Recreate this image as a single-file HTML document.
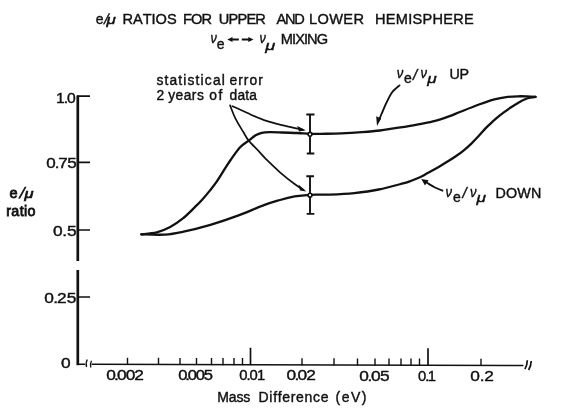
<!DOCTYPE html>
<html>
<head>
<meta charset="utf-8">
<title>e/μ ratios for upper and lower hemisphere</title>
<style>
html,body{margin:0;padding:0;background:#fff;}
body{width:581px;height:411px;overflow:hidden;position:relative;}
svg{position:absolute;left:0;top:0;display:block;will-change:transform;}
text{font-family:"Liberation Sans","DejaVu Sans",sans-serif;fill:#111;stroke:#111;stroke-width:0.4px;}
.i{font-style:italic;}
</style>
</head>
<body>
<svg width="581" height="411" viewBox="0 0 581 411">
<rect width="581" height="411" fill="#fff"/>

<!-- titles -->
<g id="titles">
<text x="95.800" y="23.700" font-size="14">e</text>
<text transform="translate(103.300,23.500) skewX(-14)" font-size="14.500">/</text>
<text x="106.400" y="23.600" font-size="12" class="i" textLength="9.300" lengthAdjust="spacingAndGlyphs">μ</text>
<text x="122.50 133.01 142.71 151.59 155.61 166.93 176.67 183.10 191.05 201.43 211.98 218.87 228.59 237.51 246.42 255.33 265.88 276.57 285.06 294.35 304.90 308.90 317.41 329.15 343.31 353.43 363.98 375.00 385.80 395.79 408.21 412.52 422.51 432.50 443.30 453.29 464.09" y="23.7" font-size="14.6">RATIOS FOR UPPER AND LOWER HEMISPHERE</text>
<text x="210.500" y="43.300" font-size="14.500" class="i" textLength="6.300" lengthAdjust="spacingAndGlyphs">ν</text>
<text x="216.800" y="48.500" font-size="14">e</text>
<text x="259.500" y="43.300" font-size="14.500" class="i" textLength="6.300" lengthAdjust="spacingAndGlyphs">ν</text>
<text x="265.300" y="49.500" font-size="13.500" class="i" textLength="10" lengthAdjust="spacingAndGlyphs">μ</text>
<text x="280.80 292.04 295.17 303.98 307.12 316.73" y="43.8" font-size="14.6">MIXING</text>
<path d="M230 39.500H238.800M241.800 39.500H251" stroke="#111" stroke-width="2" fill="none"/>
<path d="M227.300 39.500l5.200-2.600v5.200zM253.500 39.500l-5.200-2.600v5.200z" fill="#111"/>
</g>

<!-- axes -->
<g id="axes" stroke="#111" fill="none" stroke-linecap="butt">
<path d="M77.800 95.500V261M77.800 270V365.200" stroke-width="2.700"/>
<path d="M77 96.200H90M77 162.300H90M77 230H90M77 297H90" stroke-width="1.700"/>
<path d="M77 364.300L85 364.320M91.500 364.340L523.500 365.600" stroke-width="1.500"/>
<path d="M87.300 359.500C86 362 85.600 364.500 86.600 367M91.500 360.700C90.300 363 90 365.500 90.800 367.500" stroke-width="1.300"/>
<path d="M527.300 360.300C527.300 363.500 526.400 366.500 524.900 369.200M531.200 361C531.200 364.200 530.200 367.300 528.600 370" stroke-width="1.700"/>
<!-- minor ticks -->
<path d="M127.5 364.9v-7.2M158.5 365.0v-7.2M180.0 365.1v-7.2M196.5 365.1v-7.2M211.5 365.2v-7.2M223.0 365.2v-7.2M234.0 365.3v-7.2M242.5 365.3v-7.2M302.0 365.5v-7.2M334.0 365.5v-7.2M357.5 365.6v-7.2M375.0 365.7v-7.2M389.0 365.7v-7.2M401.0 365.7v-7.2M411.0 365.8v-7.2M419.5 365.8v-7.2M481.0 366.0v-7.2" stroke-width="1.400"/>
<!-- major ticks -->
<path d="M250.5 365.3v-17.5M428.0 365.8v-17.5" stroke-width="1.700"/>
</g>

<!-- axis labels -->
<g id="ylabels" font-size="14.800">
<text transform="scale(1.06,1)" x="52.83 60.05 63.29" y="102.7">1.0</text>
<text transform="scale(1.15,1)" x="40.29 47.59 50.59 58.48" y="168.4">0.75</text>
<text transform="scale(1.17,1)" x="45.32 53.31 57.18" y="236">0.5</text>
<text transform="scale(1.17,1)" x="37.88 45.49 48.81 57.01" y="303">0.25</text>
<text transform="scale(1.17,1)" x="52.24" y="368.3">0</text>
</g>
<g id="sidelabel">
<text x="9.500" y="197.700" font-size="14.500" style="stroke-width:0.8px">e</text>
<text transform="translate(18.800,197.700) skewX(-16)" font-size="15" style="stroke-width:0.7px">/</text>
<text x="24.600" y="197.600" font-size="12" class="i" textLength="9" lengthAdjust="spacingAndGlyphs" style="stroke-width:0.6px">μ</text>
<text x="6.25 11.35 19.63 23.94 27.45" y="216.3" font-size="14.3" style="stroke-width:0.8px">ratio</text>
</g>
<g id="xlabels" font-size="14.800">
<text transform="scale(1.17,1)" x="90.79 97.46 100.01 107.46 114.74" y="379.9">0.002</text>
<text transform="scale(1.12,1)" x="159.06 165.45 167.72 174.89 182.03" y="380">0.005</text>
<text x="239.22 246.48 249.61 257.09" y="380.2">0.01</text>
<text transform="scale(1.17,1)" x="244.89 251.68 254.35 261.74" y="380.4">0.02</text>
<text transform="scale(1.17,1)" x="307.11 314.15 317.07 324.87" y="380.7">0.05</text>
<text x="418.02 425.19 427.69" y="381">0.1</text>
<text transform="scale(1.17,1)" x="401.99 410.03 413.80" y="381.3">0.2</text>
<text x="217.35 228.85 236.47 243.31 250.31 258.55 269.35 273.14 277.72 282.29 290.76 296.11 304.58 313.05 320.74 328.52 335.53 341.69 350.97 361.81" y="402.3" font-size="14">Mass Difference (eV)</text>
</g>

<!-- curves -->
<g id="curves" stroke="#111" fill="none" stroke-linecap="round" stroke-linejoin="round">
<path id="up" stroke-width="2.300" d="M141.3 234.3C143.9 234.0 152.0 233.6 156.8 232.4C161.6 231.2 165.8 229.3 170.2 227.0C174.5 224.7 178.8 221.7 182.9 218.4C187.0 215.1 191.4 210.5 194.6 207.4C197.8 204.3 199.5 202.8 201.9 200.1C204.3 197.4 206.8 194.4 209.2 191.4C211.6 188.4 214.1 185.4 216.5 181.9C218.9 178.4 221.5 174.1 223.8 170.4C226.2 166.8 227.9 163.9 230.6 160.0C233.3 156.1 237.1 150.4 240.1 147.2C243.1 144.0 246.1 142.6 248.7 140.6C251.3 138.6 253.4 136.6 255.6 135.3C257.8 134.0 259.5 133.3 261.8 132.8C264.1 132.3 266.2 132.2 269.6 132.1C273.0 132.0 277.4 132.3 282.0 132.5C286.6 132.7 292.7 132.8 297.4 133.0C302.1 133.2 306.1 133.7 310.0 133.8C313.9 133.9 315.5 133.9 320.7 133.8C325.9 133.7 334.4 133.7 341.3 133.4C348.2 133.1 355.6 132.6 362.0 132.1C368.4 131.6 374.7 131.1 380.0 130.5C385.3 129.9 389.2 129.0 393.8 128.3C398.4 127.6 402.9 127.1 407.5 126.4C412.1 125.7 416.7 124.8 421.3 123.9C425.9 123.0 430.5 122.2 435.1 120.9C439.7 119.7 444.8 117.9 448.9 116.4C453.0 114.9 454.9 114.0 459.9 112.0C464.9 110.0 473.2 106.6 479.0 104.5C484.8 102.4 490.0 100.6 494.5 99.4C499.0 98.2 502.3 97.6 506.2 97.1C510.1 96.6 514.4 96.4 517.9 96.3C521.4 96.2 524.1 96.3 527.0 96.4C529.9 96.5 534.1 96.8 535.5 96.9"/>
<path id="down" stroke-width="2.300" d="M141.3 234.3C145.2 234.4 157.8 235.1 164.8 234.6C171.9 234.1 176.0 233.2 183.6 231.6C191.2 230.0 201.5 227.4 210.4 224.8C219.3 222.2 228.3 219.2 237.2 215.9C246.1 212.6 256.8 207.8 263.9 205.2C271.0 202.5 274.9 201.5 280.0 200.0C285.1 198.5 289.6 197.3 294.6 196.4C299.6 195.5 304.1 195.1 310.0 194.8C315.9 194.5 322.6 194.9 330.0 194.6C337.4 194.3 346.2 193.9 354.3 193.1C362.4 192.2 370.6 191.1 378.7 189.5C386.8 187.9 397.4 184.9 403.0 183.4C408.6 181.9 409.2 181.5 412.0 180.5C414.8 179.5 417.4 178.5 420.0 177.3C422.6 176.1 424.9 174.6 427.3 173.3C429.7 172.0 432.2 170.7 434.6 169.3C437.0 167.9 439.5 166.4 441.9 165.0C444.3 163.6 446.8 162.1 449.2 160.6C451.6 159.1 454.1 157.5 456.5 155.8C458.9 154.1 461.4 152.3 463.8 150.3C466.2 148.3 468.7 146.1 471.1 143.8C473.5 141.5 476.0 138.9 478.4 136.3C480.8 133.7 483.7 130.3 485.5 128.4C487.3 126.5 487.4 126.5 489.2 124.8C491.0 123.1 494.1 120.3 496.5 118.2C498.9 116.1 501.4 114.2 503.8 112.4C506.2 110.6 508.7 108.9 511.1 107.3C513.5 105.7 516.0 104.1 518.4 102.7C520.8 101.3 523.5 99.9 525.7 99.0C527.9 98.1 530.0 97.8 531.6 97.4C533.2 97.1 534.9 97.0 535.5 96.9"/>
<!-- error bars -->
<path stroke-width="1.900" stroke-linecap="butt" d="M310 114.500V153.500M306.300 114.500H314.500M306.800 153.500H314.300"/>
<path stroke-width="1.900" stroke-linecap="butt" d="M310 176.200V213.900M306.300 176.200H314M306.700 213.900H314.300"/>
<circle cx="310" cy="134.300" r="1.900" stroke-width="1.600" fill="#fff"/>
<circle cx="310" cy="195.200" r="1.900" stroke-width="1.600" fill="#fff"/>
<!-- annotation arrows -->
<path stroke-width="1.700" d="M232.5 106.2C235.6 107.6 245.3 112.2 251.0 114.7C256.7 117.2 261.3 119.2 266.5 120.9C271.7 122.6 276.9 123.8 282.0 125.1C287.1 126.4 293.9 127.9 297.4 128.7C300.9 129.5 302.1 129.6 303.0 129.8"/>
<path stroke-width="1.700" d="M230.1 105.4C231.0 107.6 233.3 114.2 235.5 118.6C237.7 123.0 241.0 128.1 243.2 131.8C245.4 135.5 246.1 137.4 248.7 140.6C251.3 143.8 255.7 147.9 258.7 151.1C261.7 154.3 262.9 156.1 266.5 159.6C270.1 163.1 275.3 168.2 280.0 172.3C284.7 176.4 290.7 181.1 294.6 184.0C298.5 186.9 302.0 189.0 303.5 190.0"/>
<path stroke-width="1.900" d="M399.5 85.4C398.2 86.6 394.0 89.8 391.8 92.7C389.6 95.6 388.1 99.3 386.4 102.8C384.7 106.3 382.9 110.7 381.7 113.5C380.5 116.3 379.7 118.5 379.3 119.5"/>
<path stroke-width="1.800" d="M442.5 190.7C441.2 190.2 437.3 188.6 435.0 187.5C432.7 186.4 430.5 184.9 428.8 183.9C427.1 182.9 425.6 181.7 425.0 181.3"/>
</g>
<g id="heads" fill="#111" stroke="none">
<path d="M305.800 130.300L297.200 126L299 131.600z"/>
<path d="M306.300 191.500L298.500 184.500L300 190.500z"/>
<path d="M377 126L376.200 116.300L381.200 118.600z"/>
<path d="M421.200 178.900L428.600 180.200L425 185.600z"/>
</g>

<!-- annotation text -->
<g id="notes">
<text x="156.42 164.48 169.48 178.32 183.32 187.55 195.62 200.62 204.85 212.92 221.76 224.82 229.51 238.23 243.87 249.51 258.23" y="84.7" font-size="13.8">statistical error</text>
<text x="156.51 164.18 168.17 175.54 183.68 191.83 196.90 203.80 209.32 218.45 222.28 229.52 237.40 245.28 249.33" y="100" font-size="13.8">2 years of data</text>

<text x="396.800" y="78.200" font-size="14.500" class="i" textLength="6.500" lengthAdjust="spacingAndGlyphs">ν</text>
<text x="404" y="83.300" font-size="14">e</text>
<text x="413" y="79.500" font-size="15" class="i">/</text>
<text x="420.500" y="78.200" font-size="14.500" class="i" textLength="6.500" lengthAdjust="spacingAndGlyphs">ν</text>
<text x="427.300" y="82.800" font-size="13.500" class="i" textLength="9.500" lengthAdjust="spacingAndGlyphs">μ</text>
<text x="449.40 459.52" y="79.3" font-size="14.3">UP</text>

<text x="445.500" y="196.500" font-size="14.500" class="i" textLength="6.500" lengthAdjust="spacingAndGlyphs">ν</text>
<text x="453" y="202" font-size="14">e</text>
<text x="462.500" y="197.800" font-size="15" class="i">/</text>
<text x="470" y="196.500" font-size="14.500" class="i" textLength="6.500" lengthAdjust="spacingAndGlyphs">ν</text>
<text x="476.500" y="201.500" font-size="13.500" class="i" textLength="9.500" lengthAdjust="spacingAndGlyphs">μ</text>
<text x="495.53 506.01 517.29 530.94" y="197.8" font-size="14.3">DOWN</text>
</g>
</svg>
</body>
</html>
